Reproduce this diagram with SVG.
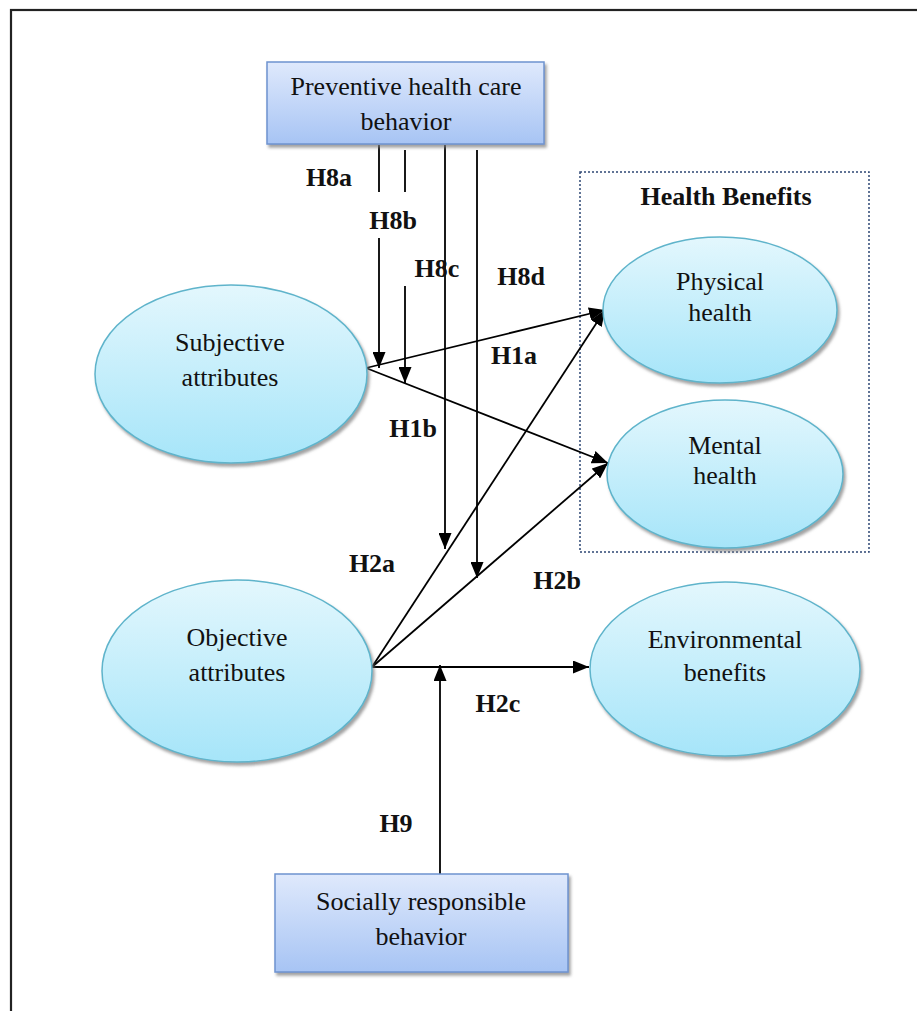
<svg xmlns="http://www.w3.org/2000/svg" width="917" height="1011" viewBox="0 0 917 1011">
  <defs>
    <linearGradient id="ovalFill" x1="0" y1="0" x2="0" y2="1">
      <stop offset="0" stop-color="#e3f7fd"/>
      <stop offset="1" stop-color="#a6e5f9"/>
    </linearGradient>
    <linearGradient id="boxFill" x1="0" y1="0" x2="0" y2="1">
      <stop offset="0" stop-color="#dfe9fc"/>
      <stop offset="1" stop-color="#a7c4f4"/>
    </linearGradient>
    <filter id="shadow" x="-10%" y="-10%" width="125%" height="130%">
      <feDropShadow dx="2" dy="3" stdDeviation="1.5" flood-color="#7a7a7a" flood-opacity="0.7"/>
    </filter>
    <marker id="arrow" viewBox="0 0 16 13" refX="16" refY="6.5" markerWidth="16" markerHeight="13" markerUnits="userSpaceOnUse" orient="auto">
      <path d="M0,0 L16,6.5 L0,13 Z" fill="#000"/>
    </marker>
    <style>
      .oval { fill: url(#ovalFill); stroke: #5fb4cb; stroke-width: 1.5; filter: url(#shadow); }
      .box { fill: url(#boxFill); stroke: #6e93cf; stroke-width: 1.5; filter: url(#shadow); }
      .ln { stroke: #000; stroke-width: 1.8; fill: none; }
      .arr { marker-end: url(#arrow); }
    </style>
  </defs>

  <rect width="917" height="1011" fill="#fff"/>
  <!-- outer frame -->
  <rect x="11" y="10" width="920" height="1020" fill="none" stroke="#222" stroke-width="2.2"/>

  <!-- Health Benefits grouping box -->
  <g id="health-benefits">
    <rect x="580" y="172" width="289" height="380" fill="none" stroke="#2e4774" stroke-width="1.5" stroke-dasharray="2,2"/>
    <text x="726" y="205" font-family="Liberation Serif" font-size="26" font-weight="bold" text-anchor="middle" fill="#111">Health Benefits</text>
  </g>

  <g id="connectors">
    <!-- H8a -->
    <line class="ln" x1="379" y1="145" x2="379" y2="192"/>
    <line class="ln arr" x1="379" y1="238" x2="379" y2="368"/>
    <!-- H8b -->
    <line class="ln" x1="405" y1="150" x2="405" y2="192"/>
    <line class="ln arr" x1="405" y1="286" x2="405" y2="383"/>
    <!-- H8c -->
    <line class="ln arr" x1="445" y1="145" x2="445" y2="549"/>
    <!-- H8d -->
    <line class="ln arr" x1="477" y1="150" x2="477" y2="578"/>
    <!-- H1a / H1b -->
    <line class="ln arr" x1="366" y1="368" x2="605" y2="310"/>
    <line class="ln arr" x1="366" y1="368" x2="608" y2="463"/>
    <!-- H2a / H2b / H2c -->
    <line class="ln arr" x1="372" y1="667" x2="605" y2="310"/>
    <line class="ln arr" x1="372" y1="667" x2="608" y2="463"/>
    <line class="ln arr" x1="372" y1="667" x2="589" y2="667"/>
    <!-- H9 -->
    <line class="ln arr" x1="440" y1="874" x2="440" y2="665"/>
  </g>

  <g id="labels" fill="#111">
    <text x="329" y="186" font-family="Liberation Serif" font-size="26" font-weight="bold" text-anchor="middle">H8a</text>
    <text x="393" y="229" font-family="Liberation Serif" font-size="26" font-weight="bold" text-anchor="middle">H8b</text>
    <text x="437" y="277" font-family="Liberation Serif" font-size="26" font-weight="bold" text-anchor="middle">H8c</text>
    <text x="521" y="285" font-family="Liberation Serif" font-size="26" font-weight="bold" text-anchor="middle">H8d</text>
    <text x="514" y="364" font-family="Liberation Serif" font-size="26" font-weight="bold" text-anchor="middle">H1a</text>
    <text x="413" y="437" font-family="Liberation Serif" font-size="26" font-weight="bold" text-anchor="middle">H1b</text>
    <text x="372" y="572" font-family="Liberation Serif" font-size="26" font-weight="bold" text-anchor="middle">H2a</text>
    <text x="557" y="589" font-family="Liberation Serif" font-size="26" font-weight="bold" text-anchor="middle">H2b</text>
    <text x="498" y="712" font-family="Liberation Serif" font-size="26" font-weight="bold" text-anchor="middle">H2c</text>
    <text x="396" y="832" font-family="Liberation Serif" font-size="26" font-weight="bold" text-anchor="middle">H9</text>
  </g>

  <g id="preventive" fill="#111">
    <rect class="box" x="267" y="62" width="277" height="82"/>
    <text x="406" y="95" font-family="Liberation Serif" font-size="26" text-anchor="middle">Preventive health care</text>
    <text x="406" y="130" font-family="Liberation Serif" font-size="26" text-anchor="middle">behavior</text>
  </g>

  <g id="subjective" fill="#111">
    <ellipse class="oval" cx="231" cy="374" rx="136" ry="89"/>
    <text x="230" y="351" font-family="Liberation Serif" font-size="26" text-anchor="middle">Subjective</text>
    <text x="230" y="386" font-family="Liberation Serif" font-size="26" text-anchor="middle">attributes</text>
  </g>

  <g id="objective" fill="#111">
    <ellipse class="oval" cx="237" cy="671" rx="135" ry="91"/>
    <text x="237" y="646" font-family="Liberation Serif" font-size="26" text-anchor="middle">Objective</text>
    <text x="237" y="681" font-family="Liberation Serif" font-size="26" text-anchor="middle">attributes</text>
  </g>

  <g id="physical" fill="#111">
    <ellipse class="oval" cx="720" cy="310" rx="117" ry="73"/>
    <text x="720" y="290" font-family="Liberation Serif" font-size="26" text-anchor="middle">Physical</text>
    <text x="720" y="321" font-family="Liberation Serif" font-size="26" text-anchor="middle">health</text>
  </g>

  <g id="mental" fill="#111">
    <ellipse class="oval" cx="725" cy="474" rx="118" ry="74"/>
    <text x="725" y="454" font-family="Liberation Serif" font-size="26" text-anchor="middle">Mental</text>
    <text x="725" y="484" font-family="Liberation Serif" font-size="26" text-anchor="middle">health</text>
  </g>

  <g id="environmental" fill="#111">
    <ellipse class="oval" cx="725" cy="669" rx="135" ry="87"/>
    <text x="725" y="648" font-family="Liberation Serif" font-size="26" text-anchor="middle">Environmental</text>
    <text x="725" y="681" font-family="Liberation Serif" font-size="26" text-anchor="middle">benefits</text>
  </g>

  <g id="socially" fill="#111">
    <rect class="box" x="275" y="874" width="293" height="98"/>
    <text x="421" y="910" font-family="Liberation Serif" font-size="26" text-anchor="middle">Socially responsible</text>
    <text x="421" y="945" font-family="Liberation Serif" font-size="26" text-anchor="middle">behavior</text>
  </g>
</svg>
